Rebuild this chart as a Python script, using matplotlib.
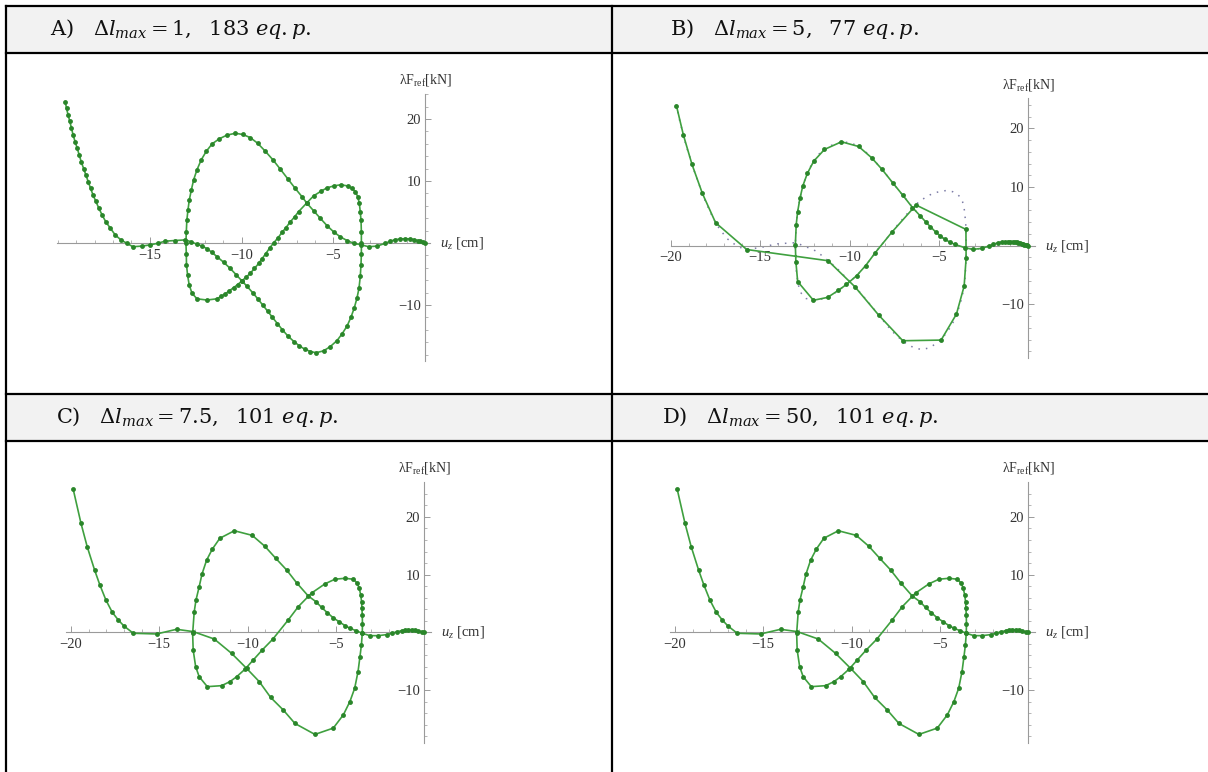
"""
Arc-length path following: equilibrium paths for four step limits
"""

import numpy as np
import matplotlib.pyplot as plt
from matplotlib.patches import Rectangle

plt.rcParams['mathtext.fontset'] = 'custom'
plt.rcParams['mathtext.rm'] = 'Liberation Serif'
plt.rcParams['mathtext.it'] = 'Liberation Serif:italic'

# panel A, dl_max = 1 (183 eq. points), also the dotted reference path in B
u_a = [-19.60, -19.53, -19.44, -19.35, -19.26, -19.17, -19.06, -18.95, -18.84, -18.73,
       -18.60, -18.48, -18.35, -18.22, -18.08, -17.93, -17.77, -17.59, -17.39, -17.15,
       -16.88, -16.57, -16.24, -15.92, -15.43, -14.97, -14.57, -14.16, -13.61, -13.07,
       -12.75, -12.43, -12.15, -11.89, -11.62, -11.34, -10.98, -10.62, -10.30, -9.98,
       -9.70, -9.40, -9.12, -8.85, -8.58, -8.32, -8.05, -7.78, -7.48, -7.15,
       -6.85, -6.55, -6.25, -5.95, -5.54, -5.17, -4.81, -4.54, -4.26, -4.05,
       -3.87, -3.72, -3.61, -3.54, -3.50, -3.48, -3.48, -3.48, -3.50, -3.54,
       -3.59, -3.68, -3.81, -3.99, -4.23, -4.59, -4.99, -5.35, -5.68, -6.08,
       -6.44, -6.90, -7.12, -7.35, -7.58, -7.80, -8.03, -8.26, -8.47, -8.68,
       -8.88, -9.07, -9.30, -9.53, -9.75, -9.98, -10.21, -10.44, -10.66, -10.89,
       -11.11, -11.34, -11.89, -12.43, -12.70, -12.85, -12.94, -13.00, -13.01, -13.03,
       -13.01, -12.98, -12.92, -12.85, -12.74, -12.61, -12.43, -12.20, -11.92, -11.60,
       -11.22, -10.80, -10.34, -9.93, -9.53, -9.13, -8.71, -8.29, -7.89, -7.50,
       -7.08, -6.72, -6.44, -6.08, -5.72, -5.35, -4.99, -4.63, -4.26, -3.90,
       -3.48, -3.09, -2.63, -2.18, -1.90, -1.63, -1.36, -1.09, -0.82, -0.60,
       -0.42, -0.27, -0.13, 0.0]
f_a = [22.8, 21.7, 20.6, 19.6, 18.5, 17.4, 16.3, 15.3, 14.2, 13.1,
       12.0, 11.0, 9.9, 8.8, 7.7, 6.7, 5.6, 4.5, 3.4, 2.4,
       1.3, 0.5, -0.05, -0.6, -0.5, -0.3, -0.05, 0.3, 0.4, 0.5,
       0.2, -0.2, -0.5, -0.9, -1.5, -2.2, -3.1, -4.1, -5.1, -6.1,
       -7.0, -8.0, -9.0, -10.0, -11.0, -12.0, -13.0, -14.0, -15.0, -15.9,
       -16.6, -17.15, -17.5, -17.7, -17.4, -16.7, -15.75, -14.7, -13.4, -12.0,
       -10.5, -8.9, -7.3, -5.4, -3.5, -1.7, 0.0, 1.8, 3.7, 5.0,
       6.4, 7.5, 8.3, 8.8, 9.2, 9.4, 9.2, 8.9, 8.35, 7.6,
       6.5, 5.05, 4.2, 3.4, 2.5, 1.7, 0.8, 0.0, -0.8, -1.7,
       -2.5, -3.3, -4.1, -4.9, -5.5, -6.1, -6.7, -7.2, -7.7, -8.2,
       -8.6, -9.0, -9.2, -9.0, -8.1, -6.8, -5.2, -3.5, -1.7, 0.0,
       1.8, 3.7, 5.3, 6.9, 8.5, 10.2, 11.8, 13.4, 14.8, 16.0,
       16.8, 17.4, 17.7, 17.5, 17.0, 16.1, 14.8, 13.4, 11.9, 10.4,
       8.8, 7.5, 6.4, 5.2, 4.0, 2.8, 1.8, 1.0, 0.4, -0.05,
       -0.3, -0.6, -0.5, -0.05, 0.3, 0.55, 0.65, 0.7, 0.65, 0.55,
       0.4, 0.25, 0.1, 0.0]

# panel B, dl_max = 5 (77 eq. points)
u_b = [-19.68, -19.29, -18.81, -18.23, -17.49, -15.75, -11.20, -9.70, -8.37, -7.02,
       -4.88, -4.02, -3.59, -3.48, -3.49, -6.28, -7.64, -8.56, -9.10, -9.60,
       -10.17, -10.62, -11.22, -12.02, -12.90, -13.00, -13.03, -12.98, -12.90, -12.77,
       -12.61, -12.36, -12.00, -11.40, -10.45, -9.49, -8.77, -8.18, -7.58, -7.02,
       -6.48, -6.04, -5.75, -5.48, -5.17, -4.92, -4.67, -4.40, -4.12, -3.55,
       -3.10, -2.60, -2.20, -1.95, -1.70, -1.50, -1.30, -1.15, -1.00, -0.88,
       -0.76, -0.66, -0.56, -0.47, -0.38, -0.30, -0.22, -0.14, -0.07, 0.0]
f_b = [23.86, 18.86, 13.86, 8.92, 3.92, -0.65, -2.56, -6.99, -11.82, -16.19,
       -16.08, -11.65, -6.88, -2.16, 2.78, 6.93, 2.27, -1.19, -3.4, -5.1,
       -6.6, -7.6, -8.8, -9.3, -6.1, -2.7, 0.1, 3.6, 5.8, 8.1,
       10.2, 12.3, 14.4, 16.4, 17.7, 16.9, 15.0, 13.0, 10.7, 8.6,
       6.5, 5.06, 4.1, 3.24, 2.3, 1.65, 1.08, 0.63, 0.23, -0.34,
       -0.63, -0.45, -0.05, 0.25, 0.5, 0.6, 0.66, 0.69, 0.7, 0.67,
       0.62, 0.58, 0.52, 0.45, 0.36, 0.28, 0.2, 0.11, 0.05, 0.0]

# panels C and D, dl_max = 7.5 and 50 (101 eq. points each, same path)
u_c = [-19.87, -19.43, -19.08, -18.66, -18.36, -18.02, -17.66, -17.32, -17.00, -16.47,
       -15.15, -14.02, -13.08, -11.89, -10.91, -10.06, -9.34, -8.70, -7.98, -7.32,
       -6.19, -5.15, -4.58, -4.21, -3.94, -3.75, -3.64, -3.56, -3.51, -3.50,
       -3.51, -3.53, -3.55, -3.60, -3.68, -3.79, -4.02, -4.49, -5.06, -5.62,
       -6.38, -7.13, -7.70, -8.58, -9.17, -9.68, -10.15, -10.62, -11.00, -11.47,
       -12.28, -12.74, -12.94, -13.08, -13.11, -13.02, -12.92, -12.74, -12.58, -12.32,
       -12.00, -11.57, -10.75, -9.74, -9.02, -8.40, -7.79, -7.23, -6.57, -6.13,
       -5.81, -5.49, -5.15, -4.83, -4.49, -4.21, -3.87, -3.51, -3.08, -2.60,
       -2.13, -1.85, -1.57, -1.28, -1.09, -0.91, -0.72, -0.53, -0.34, -0.15,
       0.0]
f_c = [24.8, 18.9, 14.86, 10.8, 8.2, 5.6, 3.47, 2.14, 1.1, -0.17,
       -0.29, 0.52, 0.12, -1.16, -3.64, -6.24, -8.55, -11.27, -13.47, -15.8,
       -17.7, -16.6, -14.3, -12.0, -9.7, -6.8, -4.2, -2.2, -0.17, 1.4,
       3.0, 4.2, 5.3, 6.5, 7.6, 8.5, 9.2, 9.36, 9.2, 8.4,
       6.8, 4.45, 2.14, -1.21, -3.06, -4.8, -6.4, -7.7, -8.55, -9.25,
       -9.42, -7.7, -5.95, -3.06, -0.17, 3.58, 5.6, 7.9, 10.1, 12.5,
       14.4, 16.3, 17.6, 16.8, 14.9, 12.8, 10.8, 8.6, 6.3, 5.3,
       4.3, 3.4, 2.5, 1.85, 1.16, 0.7, 0.29, -0.17, -0.58, -0.58,
       -0.4, -0.17, 0.06, 0.29, 0.4, 0.46, 0.46, 0.35, 0.23, 0.12,
       0.0]

titles = ["A)", "B)", "C)", "D)"]
dl_max = ["1", "5", "7.5", "50"]
n_points = ["183", "77", "101", "101"]

W, H = 1208, 772
GREEN = "#3fa03f"
DOT_GREEN = "#2a862a"
AXIS_GRAY = "#9a9a9a"

fig = plt.figure(figsize=(W / 100, H / 100), dpi=100)

# table grid drawn in pixel coordinates
bg = fig.add_axes([0, 0, 1, 1])
bg.set_xlim(0, W)
bg.set_ylim(H, 0)
bg.axis("off")
for ytop, ybot in [(6, 52.5), (393.7, 440.7)]:
    bg.add_patch(Rectangle((6, ytop), W, ybot - ytop, facecolor="#f2f2f2", edgecolor="none"))
for y in [6, 52.5, 393.7, 440.7]:
    bg.plot([6, W + 5], [y, y], color="black", lw=1.6, solid_capstyle="projecting")
for x in [6, 612]:
    bg.plot([x, x], [6, H + 5], color="black", lw=1.6, solid_capstyle="projecting")

# header texts
head_pos = [(50, 29), (670, 29), (56, 417), (662, 417)]
for (hx, hy), t, d, n in zip(head_pos, titles, dl_max, n_points):
    bg.text(hx, hy, t + r"$\ \ \ \Delta l_{max} = " + d + r",\ \ " + n + r"\ eq.p.$",
            fontsize=15, family="DejaVu Serif", math_fontfamily="dejavuserif",
            ha="left", va="center", color="#111111")


def make_axes(x0, y0, sx, sy, xlim, ylim, xticks):
    left = (x0 + sx * xlim[0]) / W
    right = (x0 + sx * xlim[1]) / W
    top = 1 - (y0 - sy * ylim[1]) / H
    bottom = 1 - (y0 - sy * ylim[0]) / H
    ax = fig.add_axes([left, bottom, right - left, top - bottom])
    ax.set_xlim(xlim)
    ax.set_ylim(ylim)
    ax.patch.set_alpha(0)
    for s in ["top", "right"]:
        ax.spines[s].set_visible(False)
    ax.spines["left"].set_position(("data", 0))
    ax.spines["bottom"].set_position(("data", 0))
    for s in ["left", "bottom"]:
        ax.spines[s].set_color(AXIS_GRAY)
        ax.spines[s].set_linewidth(0.8)
    ax.set_xticks(xticks)
    ax.set_xticks(np.arange(-20, 1, 1), minor=True)
    ax.set_yticks([-10, 10, 20])
    ax.set_yticks(np.arange(-18, 26, 2), minor=True)
    ax.tick_params(which="major", direction="in", length=4, width=0.7, color=AXIS_GRAY,
                   labelsize=10.5, labelcolor="#333333")
    ax.tick_params(which="minor", direction="in", length=2, width=0.5, color=AXIS_GRAY)
    ax.tick_params(axis="x", pad=4)
    ax.tick_params(axis="y", pad=3)
    for lab in ax.get_xticklabels() + ax.get_yticklabels():
        lab.set_family("Liberation Serif")
    ax.annotate(r"λF$_\mathrm{ref}$[kN]", xy=(0, 1), xycoords=("data", "axes fraction"),
                xytext=(0, 4), textcoords="offset points", ha="center", va="bottom",
                fontsize=10, family="Liberation Serif", color="#333333")
    ax.annotate(r"$u_z$ [cm]", xy=(1, 0), xycoords=("axes fraction", "data"),
                xytext=(7, 0), textcoords="offset points", ha="left", va="center",
                fontsize=10.5, family="Liberation Serif", color="#333333")
    return ax


def draw_path(ax, u, f, ref=False):
    if ref:
        ax.plot(u_a, f_a, color="#7c7ca6", lw=1.1, linestyle=(0, (1, 4)), zorder=2)
    ax.plot(u, f, color=GREEN, lw=1.2, zorder=3)
    ax.plot(u, f, linestyle="none", marker="o", markersize=3.5, color=DOT_GREEN,
            markeredgewidth=0, zorder=4)


ax_a = make_axes(425.3, 243.0, 18.37, 6.2, (-20.03, 0.27), (-19.1, 24.1), [-15, -10, -5])
draw_path(ax_a, u_a, f_a)

ax_b = make_axes(1028.3, 245.7, 17.97, 5.87, (-19.9, 0.4), (-19.2, 25.1), [-20, -15, -10, -5])
draw_path(ax_b, u_b, f_b, ref=True)

ax_c = make_axes(424.3, 632.3, 17.67, 5.77, (-20.3, 0.4), (-19.2, 26.1), [-20, -15, -10, -5])
draw_path(ax_c, u_c, f_c)

ax_d = make_axes(1028.3, 632.3, 17.67, 5.77, (-20.3, 0.4), (-19.2, 26.1), [-20, -15, -10, -5])
draw_path(ax_d, u_c, f_c)

plt.savefig("out.png", dpi=100)
